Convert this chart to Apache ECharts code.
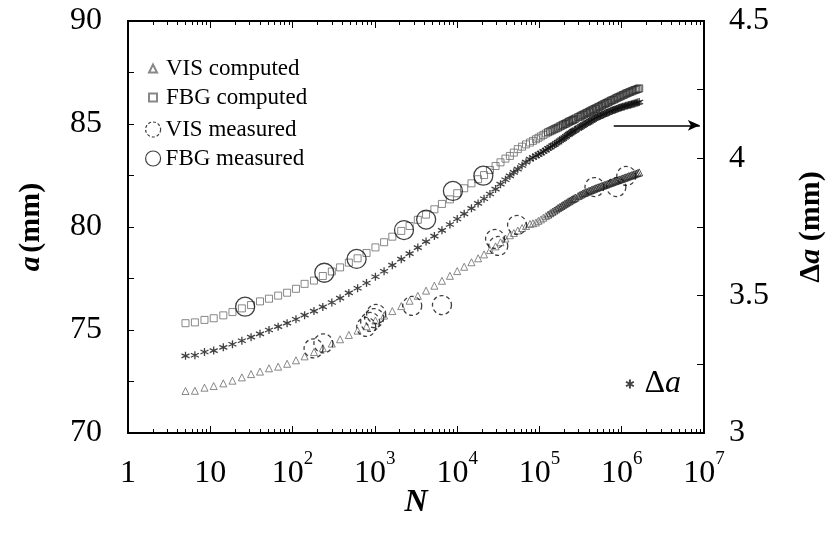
<!DOCTYPE html>
<html>
<head>
<meta charset="utf-8">
<script src="https://cdn.jsdelivr.net/npm/echarts@6/dist/echarts.min.js"></script>
<style>
  html, body { margin: 0; padding: 0; background: #fff; }
  #chart { width: 834px; height: 539px; }
</style>
</head>
<body>
<div id="chart"></div>
<script>
const SERIF = '"Liberation Serif", "Times New Roman", Times, serif';

// Number of cycles at which the crack-growth model was evaluated
const nComputed = [
  5.0, 6.5, 8.5, 11.0, 14.4, 18.6, 24.2, 31.3, 40.2, 51.7,
  66.8, 85.8, 110, 140, 182, 233, 300, 378, 483, 617,
  792, 1016, 1295, 1630, 2093, 2643, 3327, 4189, 5292, 6537,
  8166, 10020, 12180, 14930, 17980, 21230, 25060, 29300, 33650, 38650,
  43730, 48850, 54570, 61500, 68700, 76800, 83480, 90760, 97260, 104300,
  111800, 119800, 127700, 135700, 143900, 152100, 160400, 168600, 176700, 185300,
  193700, 202500, 211100, 220100, 228800, 237900, 247400, 256400, 265800, 275600,
  295500, 308000, 321100, 334700, 349000, 363800, 379300, 395500, 412300, 429900,
  448100, 467200, 487100, 507800, 529400, 552000, 575400, 599900, 625500, 652000,
  679800, 708700, 738900, 770300, 803100, 837300, 872900, 910100, 948800, 989100,
  1031000, 1075000, 1121000, 1169000, 1218000, 1270000, 1324000, 1380000, 1439000, 1500000,
  1564000, 1631000
];

// Crack length from the VIS model (mm)
const aVisComputed = [
  72.04, 72.05, 72.20, 72.28, 72.41, 72.54, 72.70, 72.86, 72.98, 73.14,
  73.22, 73.36, 73.53, 73.72, 73.93, 74.12, 74.34, 74.55, 74.76, 74.97,
  75.18, 75.46, 75.70, 75.92, 76.16, 76.42, 76.66, 76.91, 77.15, 77.39,
  77.63, 77.86, 78.07, 78.29, 78.48, 78.67, 78.88, 79.06, 79.26, 79.44,
  79.60, 79.71, 79.83, 79.95, 80.05, 80.15, 80.18, 80.22, 80.30, 80.37,
  80.45, 80.53, 80.60, 80.67, 80.74, 80.80, 80.86, 80.92, 80.97, 81.02,
  81.07, 81.12, 81.16, 81.21, 81.25, 81.29, 81.33, 81.36, 81.40, 81.43,
  81.50, 81.54, 81.58, 81.62, 81.65, 81.68, 81.71, 81.74, 81.77, 81.80,
  81.83, 81.86, 81.89, 81.92, 81.94, 81.97, 82.00, 82.02, 82.05, 82.07,
  82.10, 82.13, 82.15, 82.18, 82.21, 82.23, 82.26, 82.28, 82.31, 82.33,
  82.36, 82.39, 82.41, 82.44, 82.47, 82.49, 82.52, 82.54, 82.57, 82.60,
  82.62, 82.65
];

// Crack length from the FBG model (mm)
const aFbgComputed = [
  75.33, 75.37, 75.49, 75.57, 75.71, 75.87, 76.05, 76.21, 76.39, 76.52,
  76.67, 76.81, 77.00, 77.24, 77.40, 77.62, 77.84, 78.04, 78.27, 78.48,
  78.74, 79.01, 79.26, 79.53, 79.81, 80.05, 80.35, 80.60, 80.86, 81.12,
  81.34, 81.64, 81.88, 82.12, 82.32, 82.52, 82.77, 82.96, 83.14, 83.32,
  83.45, 83.61, 83.78, 83.90, 84.01, 84.10, 84.18, 84.26, 84.33, 84.40,
  84.47, 84.54, 84.60, 84.65, 84.70, 84.75, 84.79, 84.83, 84.88, 84.92,
  84.96, 85.00, 85.03, 85.07, 85.11, 85.14, 85.17, 85.20, 85.23, 85.27,
  85.33, 85.36, 85.40, 85.44, 85.47, 85.51, 85.54, 85.58, 85.62, 85.66,
  85.69, 85.73, 85.76, 85.80, 85.83, 85.87, 85.91, 85.95, 85.98, 86.02,
  86.05, 86.09, 86.13, 86.16, 86.19, 86.23, 86.27, 86.30, 86.33, 86.37,
  86.40, 86.43, 86.47, 86.50, 86.53, 86.56, 86.59, 86.62, 86.65, 86.67,
  86.70, 86.73
];

// Difference between the two computed crack lengths (mm), right axis
const deltaA = [
  3.281, 3.283, 3.295, 3.300, 3.312, 3.323, 3.336, 3.349, 3.361, 3.375,
  3.387, 3.400, 3.414, 3.429, 3.444, 3.459, 3.475, 3.491, 3.510, 3.527,
  3.546, 3.569, 3.589, 3.611, 3.633, 3.653, 3.675, 3.697, 3.717, 3.738,
  3.759, 3.779, 3.798, 3.818, 3.836, 3.853, 3.870, 3.888, 3.906, 3.922,
  3.936, 3.949, 3.961, 3.974, 3.986, 3.997, 4.003, 4.009, 4.014, 4.019,
  4.025, 4.030, 4.036, 4.041, 4.046, 4.050, 4.055, 4.059, 4.064, 4.068,
  4.072, 4.076, 4.080, 4.085, 4.088, 4.092, 4.095, 4.098, 4.101, 4.104,
  4.109, 4.113, 4.116, 4.119, 4.123, 4.126, 4.129, 4.132, 4.135, 4.138,
  4.142, 4.145, 4.148, 4.151, 4.153, 4.155, 4.158, 4.160, 4.163, 4.165,
  4.167, 4.170, 4.172, 4.174, 4.176, 4.178, 4.180, 4.182, 4.184, 4.186,
  4.188, 4.189, 4.191, 4.192, 4.194, 4.195, 4.197, 4.199, 4.200, 4.202,
  4.203, 4.205
];

// Measured crack lengths
const nVisMeasured = [180, 237, 785, 877, 981, 1038, 2843, 6540, 28900, 31600, 53500, 467000, 861000, 1136000];
const aVisMeasured = [74.11, 74.35, 75.15, 75.39, 75.58, 75.78, 76.17, 76.21, 79.42, 79.08, 80.10, 81.94, 81.94, 82.48];
const nFbgMeasured = [26.5, 243, 600, 2260, 4200, 8880, 20800];
const aFbgMeasured = [76.13, 77.78, 78.45, 79.85, 80.36, 81.75, 82.49];

// Decade ticks (labelled) and the 2..9 sub-decade ticks of the log axis
const xMajorTicks = [1, 10, 100, 1e3, 1e4, 1e5, 1e6, 1e7];
const xMinorTicks = [];
for (let k = 0; k < 7; k++) {
  for (let m = 2; m <= 9; m++) xMinorTicks.push(m * Math.pow(10, k));
}

// Arrow pointing the Δa curve to its axis
const arrowN = [8.0e5, 8.9e6];
const arrowDeltaA = 4.12;

// Beyond this cycle count the closely packed markers merge into a dark band
const denseFrom = 1.2e5;

function pairs(xs, ys, denseColor) {
  return xs.map((x, i) => {
    const item = { value: [x, ys[i]] };
    if (denseColor && x >= denseFrom) item.itemStyle = { borderColor: denseColor };
    return item;
  });
}

const starPath = 'path://M5,0L5,10M0.67,2.5L9.33,7.5M0.67,7.5L9.33,2.5';

const tickLine = { color: '#000', width: 1 };
const axisLineStyle = { show: true, onZero: false, lineStyle: { color: '#000', width: 2 } };

function decadeLabel(v) {
  const e = Math.round(Math.log10(v));
  if (e === 0) return '{n|1}';
  if (e === 1) return '{n|10}';
  return '{n|10}{s|' + e + '}';
}

function logAxis(position, major, withLabels) {
  const ax = {
    type: 'log', logBase: 10, min: 1, max: 1e7, gridIndex: 0, position: position,
    axisLine: major ? axisLineStyle : { show: false },
    axisTick: { show: true, inside: true, length: major ? 7 : 4, lineStyle: tickLine,
                customValues: major ? xMajorTicks : xMinorTicks },
    axisLabel: { show: false },
    splitLine: { show: false },
    minorTick: { show: false },
    axisPointer: { show: false }
  };
  if (withLabels) {
    ax.axisLabel = {
      show: true, customValues: xMajorTicks, formatter: decadeLabel, margin: 17, color: '#000',
      rich: {
        n: { fontFamily: SERIF, fontSize: 32, lineHeight: 40, verticalAlign: 'bottom', color: '#000' },
        s: { fontFamily: SERIF, fontSize: 19, lineHeight: 19, verticalAlign: 'top', color: '#000' }
      }
    };
    ax.name = 'N';
    ax.nameLocation = 'middle';
    ax.nameGap = 54;
    ax.nameMoveOverlap = false;
    ax.nameTextStyle = { fontFamily: SERIF, fontSize: 32, fontWeight: 'bold', fontStyle: 'italic', color: '#000' };
  }
  return ax;
}

const legendText = { fontFamily: SERIF, fontSize: 23, color: '#000' };

const chart = echarts.init(document.getElementById('chart'), null, { renderer: 'canvas' });

chart.setOption({
  animation: false,
  backgroundColor: '#fff',
  grid: { left: 128, right: 126, top: 21, bottom: 106, containLabel: false },
  xAxis: [
    logAxis('bottom', true, true),
    logAxis('bottom', false, false),
    logAxis('top', true, false),
    logAxis('top', false, false)
  ],
  yAxis: [
    {
      type: 'value', min: 70, max: 90, interval: 5, position: 'left',
      axisLine: axisLineStyle,
      axisTick: { show: true, inside: true, length: 6, lineStyle: tickLine },
      minorTick: { show: true, splitNumber: 2, length: 6, lineStyle: tickLine },
      splitLine: { show: false },
      axisLabel: { fontFamily: SERIF, fontSize: 32, color: '#000', margin: 26 },
      name: '{i|a} {b|(mm)}', nameLocation: 'middle', nameGap: 82, nameRotate: 90,
      nameTextStyle: {
        rich: {
          i: { fontFamily: SERIF, fontSize: 30, fontWeight: 'bold', fontStyle: 'italic', color: '#000' },
          b: { fontFamily: SERIF, fontSize: 30, fontWeight: 'bold', color: '#000' }
        }
      }
    },
    {
      type: 'value', min: 3, max: 4.5, interval: 0.5, position: 'right',
      axisLine: axisLineStyle,
      axisTick: { show: true, inside: true, length: 7, lineStyle: tickLine },
      minorTick: { show: true, splitNumber: 2, length: 7, lineStyle: tickLine },
      splitLine: { show: false },
      axisLabel: { fontFamily: SERIF, fontSize: 32, color: '#000', margin: 25 },
      name: '{b|Δ}{i|a}{b| (mm)}', nameLocation: 'middle', nameGap: 92, nameRotate: 90,
      nameTextStyle: {
        rich: {
          i: { fontFamily: SERIF, fontSize: 30, fontWeight: 'bold', fontStyle: 'italic', color: '#000' },
          b: { fontFamily: SERIF, fontSize: 30, fontWeight: 'bold', color: '#000' }
        }
      }
    }
  ],
  legend: [
    {
      data: ['VIS computed', 'FBG computed'],
      orient: 'vertical', left: 143, top: 52, itemWidth: 8, itemHeight: 8, itemGap: 6,
      selectedMode: false,
      textStyle: Object.assign({ padding: [0, 0, 0, 4] }, legendText)
    },
    {
      data: [
        { name: 'VIS measured', itemStyle: { borderType: [3, 2], borderWidth: 1.2 } },
        { name: 'FBG measured', itemStyle: { borderWidth: 1.2 } }
      ],
      orient: 'vertical', left: 140, top: 113, itemWidth: 15, itemHeight: 15, itemGap: 6,
      selectedMode: false,
      textStyle: legendText
    },
    {
      data: ['Δa'],
      orient: 'vertical', left: 620, top: 363, itemWidth: 11, itemHeight: 9,
      selectedMode: false,
      formatter: () => '{d|Δ}{i|a}',
      textStyle: {
        padding: [0, 0, 0, 4],
        rich: {
          d: { fontFamily: SERIF, fontSize: 32, color: '#000' },
          i: { fontFamily: SERIF, fontSize: 32, fontStyle: 'italic', color: '#000' }
        }
      }
    }
  ],
  series: [
    {
      name: 'VIS computed', type: 'scatter', xAxisIndex: 0, yAxisIndex: 0,
      symbol: 'triangle', symbolSize: 7,
      itemStyle: { color: 'rgba(255,255,255,0)', borderColor: '#6a6a6a', borderWidth: 1 },
      emphasis: { disabled: true },
      data: pairs(nComputed, aVisComputed, '#2a2a2a'), z: 2
    },
    {
      name: 'FBG computed', type: 'scatter', xAxisIndex: 0, yAxisIndex: 0,
      symbol: 'rect', symbolSize: 7,
      itemStyle: { color: 'rgba(255,255,255,0)', borderColor: '#6a6a6a', borderWidth: 1 },
      emphasis: { disabled: true },
      data: pairs(nComputed, aFbgComputed, '#2a2a2a'), z: 2
    },
    {
      name: 'VIS measured', type: 'scatter', xAxisIndex: 0, yAxisIndex: 0,
      symbol: 'circle', symbolSize: 19,
      itemStyle: { color: 'rgba(255,255,255,0)', borderColor: '#111', borderWidth: 1.3, borderType: [4, 3] },
      emphasis: { disabled: true },
      data: pairs(nVisMeasured, aVisMeasured), z: 3
    },
    {
      name: 'FBG measured', type: 'scatter', xAxisIndex: 0, yAxisIndex: 0,
      symbol: 'circle', symbolSize: 19,
      itemStyle: { color: 'rgba(255,255,255,0)', borderColor: '#111', borderWidth: 1.3 },
      emphasis: { disabled: true },
      data: pairs(nFbgMeasured, aFbgMeasured), z: 3
    },
    {
      name: 'Δa', type: 'scatter', xAxisIndex: 0, yAxisIndex: 1,
      symbol: starPath, symbolSize: 8,
      itemStyle: { color: '#111', borderColor: '#111', borderWidth: 1.3 },
      emphasis: { disabled: true },
      data: pairs(nComputed, deltaA), z: 2,
      markLine: {
        silent: true, animation: false,
        symbol: ['none', 'arrow'], symbolSize: [8, 12],
        label: { show: false },
        lineStyle: { color: '#000', width: 1.5, type: 'solid' },
        emphasis: { disabled: true },
        data: [[{ coord: [arrowN[0], arrowDeltaA] }, { coord: [arrowN[1], arrowDeltaA] }]]
      }
    }
  ]
});
</script>
</body>
</html>
